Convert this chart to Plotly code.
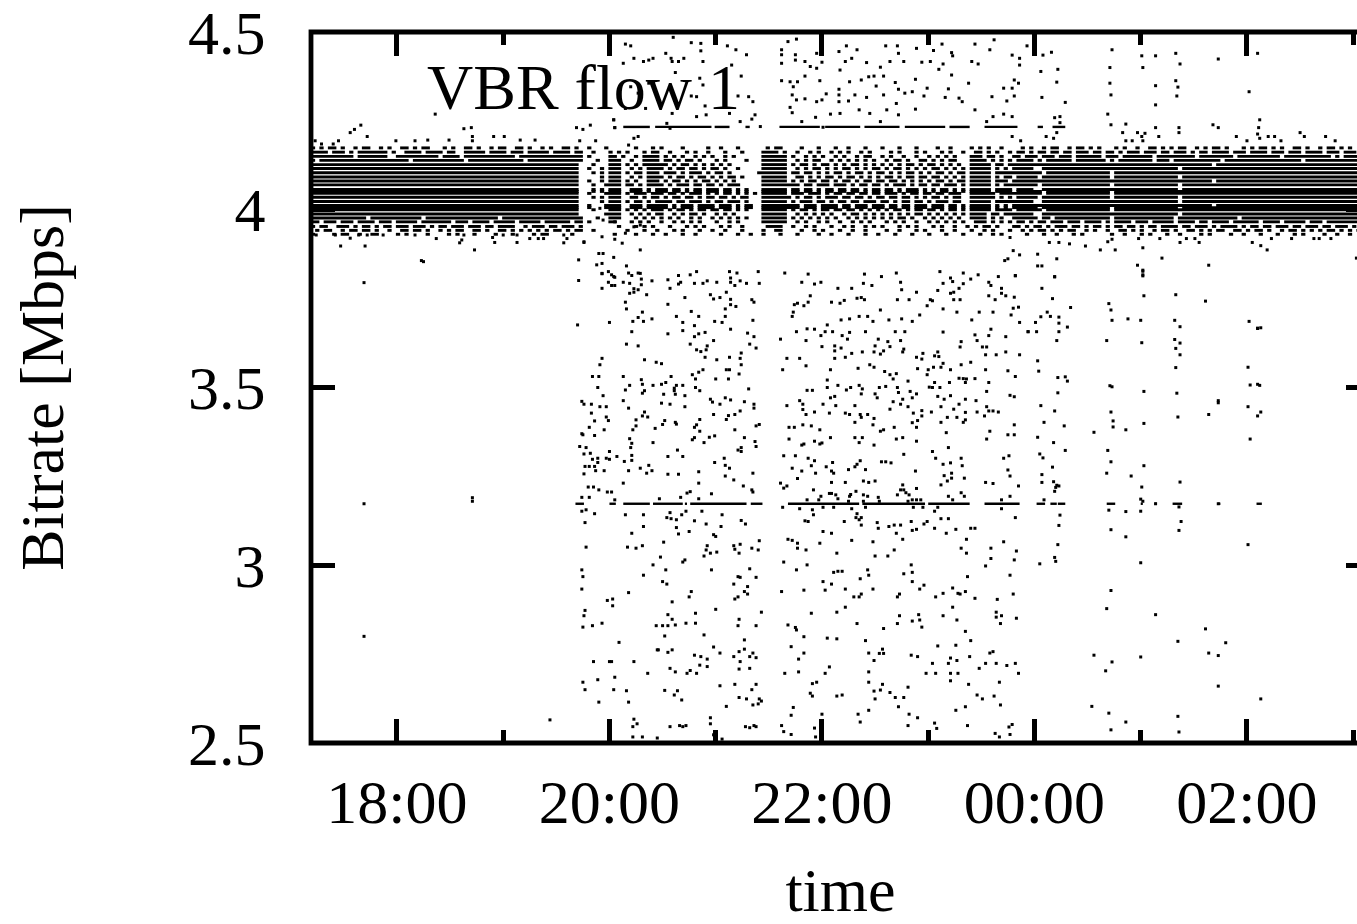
import plotly.graph_objects as go

FONT = "Liberation Serif"
x_tick_hours = [0, 2, 4, 6, 8]
x_tick_labels = ["18:00", "20:00", "22:00", "00:00", "02:00"]
x_minor_hours = [1, 3, 5, 7, 9]
y_ticks = [2.5, 3, 3.5, 4, 4.5]
y_tick_labels = ["2.5", "3", "3.5", "4", "4.5"]

# Quantised bitrate levels with on/off occupancy in 0.04 h bins
BIN_START = -0.81
BIN_H = 0.04
LEFT_SOLID = "###############################################################."
RIGHT_A = "#####.################.###############.############################################"
RIGHT_B = "##############################################.####################################"
RIGHT_C = "####..################################.############################################"
RIGHT_D = "######.###############.############################################################"

left_4174 = "#.#.##.#.. #.##..#.#. .##.#.##.. .#.#..##.# ..#.##..## .#..#.#..# #.#.#.#.#. ...."
left_4162 = "####.###.# .#######.# ..####.### #.##..#### #.####.### .#####.### #.##.##### ...."
left_4150 = "########## .#######.. ########## .####.#### ########.# ########## ########## ...."
left_4139 = "#.######## ########## ###.###### ######.### ########## .######### ########## ...."
left_3977 = "########## ###.###### ######.### ########## ####.##### ########## ########## ...."
left_3966 = "##.###.### .####.###. #####.#### ###.###.## ##.#####.# ####.##### #.###.#### ...."
left_3953 = "#.##..###. #.##.#.##. ###.###.#. ##.###.### .##.####.. #.###.##.# ##.#.###.# ...."
left_3942 = ".#.##..#.# #.##.#..#. .##.##.#.. #.#.##..## .#..##.#.# .#.#.#.##. #.##.#.#.. ...."
left_3931 = "#....#.##. .#..##.... #.#....#.. ..#.#...#. ...#...#.. ..#.##.... .#...#..#. ...."

mid_4174 = ".#...#.... ..#...#.#. ...#.....# ..#...#... ...#.##... .#...#...# ..#...#... #...#...#. ...#..#... .#.#.#..#. .."
mid_4162 = "..#...#.#. #...#.##.. #...#.#..# ...#...#.. ..####.#.. #..#.#..#. #.#..#.#.. ..#.#...#. #...#.#..# ..##.#.#.. #."
mid_4150 = ".#....##.# ..#.####.# .#.#..#.#. #..#.#.... ..######.# ..#.#.#..# .#..#.##.. #.#..#..#. .#.#.#.#.. .###.##.#. .#"
mid_4139 = "...#..###. .#..####.# #.#.##.#.. .#.#....#. ..######.. #.#.##..#. #.#.#.#.#. .#.##.#..# #.#.#.##.. .####.#.#. #."
mid_4127 = "..#...###. #.#.###### .#.##.#.#. #.#.#..... ..######.# .##.#.##.# .#.##.#.#. #.#.#.##.# .##.#.#.#. .#####.##. ##"
mid_4116 = ".#..#.###. .#.#.####. #.##.##.#. ##.#..#... ..######.. #.#.##.#.# .##.#.#.## .#.##.#.#. #.##.#.#.# .#####.#.# .#"
mid_4104 = "..#.#.###. #.##.###.# ##.#.###.# .##.#..... .#######.# #.##.#.#.# #.#.##.#.# #.#.#.##.# .#.##.#.## .#####.### ##"
mid_4092 = "....#.###. .#.#.####. #.##.#.##. #.#.##.#.. ..######.. ##.#.#.##. #.##.#.#.# .##.#.##.# #.##.#.#.# .#####.#.# #."
mid_4081 = ".#..#.###. #.#..###.# .##.#.#.## .#.#.#.... ..######.# .#.##.##.# .##.#.##.# #.##.#.#.# .#.##.#.## .#####.### .#"
mid_4070 = "..#..####. ##.#.####. #.###.##.# #.#.###... ..######## #.##.###.# ##.#.##.## .#.###.#.# #.##.###.# .#####.#.# ##"
mid_4057 = "..#.#.###. .###.#.### .##.#.##.# ##.##.#.#. ..######.# #.##.#.##. ##.##.#.## .##.#.###. #.#.##.#.# .#####.### #."
mid_4046 = ".#...####. #.###.###. ##.#.###.# .#.##.#.#. #.######.# ##.###.#.# #.##.##.## .###.#.##. ##.##.###. .######.## ##"
mid_4035 = "..#.#.###. .##.#.##.# .##.##.#.# #.##.#.##. ..#######. #.##.#.### .##.##.#.# #.##.##.#. #.##.#.##. .######.#. #."
mid_4023 = "....#.###. #.##.#.### #.##.###.# .##.###.#. ..######.# .###.##.#. ##.##.###. ##.#.##.## .#.###.##. .#####.### ##"
mid_4012 = ".#...####. .###.##### .#.###.### #.###.#.## ..######## #.###.#### .##.###.## #.##.##.## #.###.##.# .#####.#.# .#"
mid_4000 = "..#...###. #.#.#.###. #.##.#.##. ##.##.#.#. ..######.# .##.#.##.# #.##.#.#.# .#.##.#.## .##.#.##.# .#####.### #."
mid_3988 = ".....####. .#.#.#.##. .#.#.##.#. .#.#.#.... ..######.. #.#.#.#.#. .#.##.#.#. #.#.#.#.## .#.#.#.#.# .####.##.# ##"
mid_3977 = "...#..###. ..#.#.#.#. #.#..#.#.. #.#.#.#.#. ..######.# .#.#.#.#.# ..#.#.#.#. #.#.##.#.. #.#.#.#.#. .####.#.#. .#"
mid_3966 = ".#....##.. .#.#.#..#. .#.#.#.#.. .#..#.#... ..######.. #.#..#.#.. #..#.#.#.. .#.#.#..#. .#.#.#.#.# ..###.#.#. #."
mid_3953 = "........#. ..#.#.#... #...#.#.#. ..#.#..#.. ...####..# ..#.#...#. .#.#..#.#. #...#.#.#. ..#.#..#.. #.#.##.#.. .#"
mid_3942 = "..#....... #...#..#.. .#.#...#.. #..#...#.. ..#..##... .#..#.#... #..#..#... .#..#...#. #...#..#.. .#..#.#... #."
mid_3931 = ".......#.. ..#...#..# ...#..#... ..#...#..# ..#...#... #....#..#. ..#...#..# ...#...#.. .#...#...# ...#..#.#. .."

right_4174 = ".#.#..#.## ..#.##.#.# ...#.#..#. .##.#.#.## ..#.#.##.# ...#.#.##. #.#..##.#. .#.##.#.#. .##"
right_4162 = "##.#.##.## .##.###.## .##.#.###. ###.##.### .#.##.#### .###.####. ###.###.## ##.###.### .##"
right_4150 = "#.###.###. ###.###### .###.##### ##.####### ##.####### #.######## ##.####### ####.#.### ###"
right_4139 = "####.#.### ###.###### #.#.###### ##.###.### ########.# ########## #######.## ########## ###"
right_3977 = "#####.##.# ########## ##.####### #######.## ########## ##.####### ########## ########## ###"
right_3966 = "##.#.##.## #.###.#### .#.####.## #.#####.## ##.##.#### .######.## ##.#####.# ##.####### ###"
right_3953 = "#.#.##.#.# ##.##.#.## .#.##.##.# .##.####.# #.###.#.## ##.#.##.## .###.##.## #.##.###.# .##"
right_3942 = ".#.#.##.#. #.##..#.#. .#..##.#.# ..#.##.#.. ##.#.#.##. .##.#.##.# ..#.##.#.# .#.##.#.#. ##."
right_3931 = "..#...#..# ...#.#.... ..#..#...# .#...#..#. ...#.#.... #..#...#.. .#...#.#.. ..#..#..#. ..#"

band_rows = [
    (4.174, left_4174, mid_4174, right_4174), (4.162, left_4162, mid_4162, right_4162),
    (4.150, left_4150, mid_4150, right_4150), (4.139, left_4139, mid_4139, right_4139),
    (4.127, LEFT_SOLID, mid_4127, RIGHT_B), (4.116, LEFT_SOLID, mid_4116, RIGHT_C),
    (4.104, LEFT_SOLID, mid_4104, RIGHT_D), (4.092, LEFT_SOLID, mid_4092, RIGHT_A),
    (4.081, LEFT_SOLID, mid_4081, RIGHT_B), (4.070, LEFT_SOLID, mid_4070, RIGHT_A),
    (4.057, LEFT_SOLID, mid_4057, RIGHT_C), (4.0515, LEFT_SOLID, mid_4057, RIGHT_D),
    (4.046, LEFT_SOLID, mid_4046, RIGHT_D), (4.035, LEFT_SOLID, mid_4035, RIGHT_A),
    (4.023, LEFT_SOLID, mid_4023, RIGHT_C), (4.012, LEFT_SOLID, mid_4012, RIGHT_B),
    (4.006, LEFT_SOLID, mid_4012, RIGHT_A), (4.000, LEFT_SOLID, mid_4000, RIGHT_D),
    (3.988, LEFT_SOLID, mid_3988, RIGHT_C), (3.977, left_3977, mid_3977, right_3977),
    (3.966, left_3966, mid_3966, right_3966), (3.953, left_3953, mid_3953, right_3953),
    (3.942, left_3942, mid_3942, right_3942), (3.931, left_3931, mid_3931, right_3931),
]

# Flat runs at the two repeated bitrates (start, end pairs in hours after 18:00)
level_3173 = 3.173
runs_3173 = [1.68, 1.76, 2.00, 2.06, 2.13, 2.38, 2.41, 2.69, 2.71, 2.73, 2.76, 3.29, 3.33, 3.44, 3.68, 4.35,
             4.38, 4.97, 5.00, 5.39, 5.53, 5.86, 6.02, 6.10, 6.15, 6.21, 6.22, 6.29, 6.68, 6.76, 7.00, 7.02,
             7.13, 7.15, 7.30, 7.39, 7.73, 7.75, 8.09, 8.14]
level_4233 = 4.233
runs_4233 = [2.13, 2.38, 2.43, 2.96, 2.99, 3.13, 3.28, 3.32, 3.60, 3.98, 4.03, 4.36, 4.40, 4.73, 4.78, 5.16,
             5.20, 5.39, 5.53, 5.84, 6.03, 6.08, 6.17, 6.29]

isolated = [(-0.31, 3.795), (-0.31, 3.173), (0.71, 3.19), (0.71, 3.18), (-0.31, 2.80), (1.44, 2.565), (0.23, 3.857)]

fringe_left = [(-0.77,4.194),(-0.71,4.185),(-0.60,4.185),(-0.55,4.194),(-0.28,4.206),(-0.01,4.194),(0.17,4.194),
 (0.29,4.196),(0.49,4.196),(0.71,4.206),(0.71,4.194),(0.91,4.206),(1.01,4.206),(1.16,4.196),(1.30,4.196),
 (-0.44,4.217),(-0.40,4.226),(-0.34,4.238),(0.63,4.228),(0.70,4.231),(0.36,4.269),(1.69,4.231),(1.75,4.226),
 (1.82,4.238),(2.04,4.253),(2.05,4.231),(1.72,4.194),(1.87,4.194),
 (-0.76,3.929),(-0.58,3.929),(-0.44,3.920),(-0.36,3.929),(-0.28,3.929),(-0.13,3.929),(0.17,3.929),(0.37,3.919),
 (0.63,3.929),(0.61,3.915),(0.59,3.907),(0.90,3.922),(0.92,3.908),(1.00,3.929),(1.13,3.929),(1.13,3.908),
 (1.25,3.919),(1.33,3.919),(1.38,3.919),(1.57,3.929),(1.60,3.919),(1.57,3.907),(1.76,3.908),(-0.53,3.898),
 (-0.30,3.898),(0.73,3.887),(0.25,3.854),(1.71,3.859)]

patch_above_left = [(2.15,4.466),(2.20,4.461),(2.23,4.426),(2.13,4.412),(2.32,4.417),(2.37,4.421),(2.20,4.346),
 (2.27,4.328),(2.15,4.285),(2.34,4.285),(2.37,4.356),(2.04,4.253),(2.05,4.231),(2.23,4.201),(2.27,4.206),(2.18,4.182)]

patch_below_left = [(1.91,4.004),(1.94,3.971),(2.05,3.966),(2.23,3.952),(2.15,3.934),(2.29,3.957),(1.93,3.924),
 (2.05,3.917),(2.12,3.906),(2.29,3.887),(1.90,3.877),(1.94,3.877),(2.04,3.866),(1.93,3.849),(1.88,3.845),
 (2.16,3.842),(2.29,3.821),(2.04,3.812),(1.93,3.821),(1.76,3.910)]

top_a = [(2.60,4.485),(2.77,4.470),(2.86,4.468),(2.86,4.447),(2.41,4.426),(2.53,4.440),(2.58,4.426),(2.59,4.417),
 (2.65,4.417),(2.70,4.426),(2.88,4.417),(3.11,4.461),(3.19,4.450),(3.29,4.436),(3.15,4.407),(2.62,4.386),
 (2.85,4.370),(2.88,4.351),(3.24,4.376),(3.21,4.320),(3.31,4.318),(3.35,4.304),(2.90,4.292),(2.77,4.320),
 (2.82,4.318),(2.59,4.271),(2.82,4.262),(2.91,4.267),(3.13,4.271),(3.37,4.267),(3.34,4.255),(3.23,4.248),
 (2.54,4.243),(2.57,4.229),(3.42,4.234)]

top_b = [(3.62,4.450),(3.62,4.436),(3.62,4.412),(3.68,4.473),(3.76,4.480),(3.75,4.436),(3.75,4.421),(3.84,4.417),
 (3.89,4.403),(3.95,4.440),(4.00,4.415),(3.95,4.398),(3.62,4.363),(3.70,4.360),(3.77,4.360),(3.84,4.376),
 (3.98,4.363),(3.73,4.346),(3.72,4.323),(3.76,4.309),(3.84,4.312),(3.95,4.304),(4.00,4.309),(4.04,4.326),
 (4.16,4.339),(4.16,4.323),(4.16,4.304),(4.25,4.306),(4.31,4.323),(4.42,4.316),(4.58,4.323),(4.70,4.299),
 (3.70,4.288),(3.72,4.273),(3.94,4.260),(4.08,4.269),(4.17,4.271),(4.35,4.281),(4.45,4.271),(4.61,4.281),
 (4.55,4.248),(4.72,4.267),(4.88,4.283),(4.78,4.328),(4.85,4.332),(4.96,4.320),(4.26,4.360),(4.37,4.365),
 (4.44,4.374),(4.49,4.376),(4.51,4.348),(4.58,4.376),(4.69,4.358),(4.88,4.367),(4.72,4.339),(4.99,4.342)]

top_c = [(4.16,4.445),(4.23,4.461),(4.33,4.450),(4.28,4.426),(4.22,4.417),(4.17,4.393),(4.42,4.414),(4.55,4.401),
 (4.64,4.417),(4.60,4.461),(4.71,4.461),(4.72,4.440),(4.77,4.417),(4.89,4.454),(4.94,4.415),(5.02,4.417),
 (5.10,4.395),(5.14,4.410),(5.05,4.448),(5.13,4.466),(5.22,4.442),(5.23,4.433),(5.38,4.356),(5.19,4.340),
 (5.16,4.316),(5.29,4.314),(5.32,4.304),(5.22,4.379),(5.41,4.417),(5.47,4.410),(5.44,4.466),(5.58,4.450),
 (5.62,4.478),(5.60,4.318),(5.44,4.281),(5.55,4.248),(5.61,4.262),(3.81,4.248),(4.01,4.232)]

top_d = [(5.93,4.461),(5.79,4.435),(5.86,4.426),(5.86,4.407),(6.08,4.435),(6.16,4.443),(6.22,4.395),(6.06,4.389),
 (5.81,4.365),(5.85,4.356),(6.21,4.359),(6.73,4.450),(6.71,4.400),(7.02,4.400),(7.01,4.433),(7.14,4.433),
 (7.33,4.440),(7.37,4.410),(7.33,4.363),(7.35,4.345),(7.14,4.349),(6.71,4.356),(6.72,4.323),(7.73,4.424),
 (8.10,4.440),(8.02,4.332),(7.34,4.320),(7.14,4.295),(6.07,4.316),(6.29,4.302),(5.71,4.342),(5.79,4.342),
 (5.74,4.306),(5.81,4.320),(5.71,4.269),(5.79,4.262),(6.19,4.259),(6.24,4.262),(6.69,4.269),(6.72,4.239),
 (6.24,4.245),(6.86,4.241),(7.14,4.231),(7.36,4.231),(7.68,4.239),(7.73,4.231),(8.12,4.253),(8.11,4.231),
 (6.83,4.217),(6.97,4.217),(7.01,4.206),(7.04,4.215),(7.36,4.217),(8.10,4.213),(8.12,4.201),(7.90,4.206),
 (8.50,4.217),(8.54,4.206),(8.74,4.206),(8.20,4.206),(8.26,4.206),(8.32,4.194),(7.17,4.206),(5.79,4.206),
 (5.87,4.194),(6.11,4.206),(6.21,4.217),(6.18,4.201),(6.86,4.194),(6.92,4.194),(7.02,4.194),(8.00,4.194),(8.83,4.194)]

below_d = [(5.77,3.922),(6.14,3.908),(6.23,3.908),(6.33,3.904),(6.48,3.898),(6.62,3.887),(6.76,3.887),(6.69,3.910),
 (6.73,3.917),(6.98,3.919),(7.18,3.919),(7.02,3.893),(7.37,3.908),(7.43,3.919),(7.51,3.919),(7.55,3.908),
 (8.05,3.908),(8.13,3.899),(8.19,3.887),(8.23,3.919),(8.42,3.919),(8.63,3.919),(8.68,3.919),(8.79,3.919),
 (6.03,3.875),(5.86,3.873),(5.80,3.885),(5.75,3.862),(5.72,3.857),(6.21,3.862),(7.20,3.864),(6.03,3.842),
 (6.07,3.842),(5.82,3.814),(6.19,3.812),(6.97,3.844),(7.02,3.830),(7.02,3.814),(7.64,3.844),(9.03,3.864)]

low_a = [(1.93,3.820),(1.99,3.826),(2.02,3.817),(2.05,3.810),(2.18,3.822),(2.21,3.815),(2.27,3.822),(2.65,3.815),
 (2.76,3.817),(2.82,3.826),(3.13,3.826),(3.20,3.822),(3.40,3.826),(1.71,3.801),(1.99,3.796),(2.02,3.787),
 (2.05,3.787),(2.13,3.796),(2.19,3.793),(2.30,3.805),(2.30,3.789),(2.40,3.800),(2.55,3.803),(2.65,3.791),
 (2.67,3.796),(2.80,3.793),(2.88,3.793),(2.92,3.800),(3.01,3.796),(3.14,3.808),(3.14,3.796),(3.18,3.787),
 (3.23,3.800),(3.29,3.793),(3.41,3.793),(1.93,3.779),(2.23,3.778),(2.27,3.775),(2.19,3.765),(2.23,3.768),
 (2.35,3.761),(2.57,3.779),(3.10,3.768),(2.95,3.761),(3.04,3.753),(2.98,3.749),(2.71,3.753),(3.14,3.748),
 (2.15,3.740),(2.55,3.734),(3.14,3.733),(3.19,3.728),(3.34,3.747),(3.36,3.740),(2.16,3.721),(3.09,3.721),
 (2.31,3.712),(2.27,3.697),(2.32,3.686),(2.40,3.693),(2.22,3.686),(2.00,3.683),(1.70,3.676),(2.63,3.700),
 (2.77,3.714),(2.84,3.700),(2.69,3.683),(2.99,3.686),(3.06,3.683),(3.09,3.700),(3.35,3.689),(2.80,3.674),
 (2.21,3.657),(2.55,3.651),(2.69,3.660),(2.84,3.651),(2.80,3.643),(2.90,3.655),(3.14,3.664),(3.30,3.653),
 (3.36,3.643),(2.16,3.622),(2.27,3.617),(2.76,3.622),(2.98,3.632),(2.92,3.617),(2.82,3.606),(2.86,3.601),
 (2.91,3.606),(3.32,3.622),(3.38,3.611),(1.93,3.582),(1.91,3.564),(2.33,3.578),(2.44,3.571),(2.49,3.567),
 (2.90,3.585),(3.01,3.578),(3.13,3.585),(3.23,3.582),(3.24,3.597),(3.24,3.564),(1.84,3.531),(1.90,3.531),
 (2.13,3.531),(2.30,3.522),(2.58,3.531),(2.78,3.536),(2.84,3.543),(2.88,3.550),(2.81,3.524),(3.00,3.524),
 (3.12,3.524),(3.10,3.550),(3.13,3.550),(3.22,3.538),(1.89,3.500),(2.15,3.493),(2.19,3.506),(2.31,3.509),
 (2.41,3.506),(2.49,3.509),(2.53,3.514),(2.61,3.498),(2.61,3.491),(2.63,3.506),(2.69,3.506),(2.33,3.491),
 (2.31,3.484),(2.51,3.481),(2.62,3.481),(2.71,3.477),(2.81,3.500),(2.85,3.491),(3.31,3.496),(1.94,3.477),
 (1.74,3.461),(1.76,3.453),(1.83,3.453),(1.91,3.446),(1.97,3.446),(2.13,3.463),(2.18,3.442),(2.49,3.456),
 (2.57,3.453),(2.71,3.446),(2.95,3.467),(2.97,3.459),(3.04,3.453),(3.09,3.471),(3.14,3.465),(3.27,3.460),
 (3.36,3.453),(3.36,3.442),(1.83,3.428),(1.97,3.417),(1.99,3.407),(1.86,3.406),(2.25,3.409),(2.33,3.431),
 (2.31,3.420),(2.36,3.417),(2.98,3.424),(3.12,3.421),(3.18,3.424),(3.23,3.434),(3.10,3.410),(2.85,3.410),
 (2.52,3.407),(2.62,3.402),(2.63,3.397),(2.50,3.396),(2.25,3.392),(3.38,3.392),(3.41,3.396),(1.81,3.388),
 (1.74,3.370),(1.75,3.367),(1.86,3.365),(1.95,3.381),(2.22,3.381),(2.43,3.385),(2.80,3.388),(2.82,3.395),
 (2.85,3.377),(3.18,3.381),(2.99,3.364),(2.94,3.360),(2.80,3.359),(3.27,3.359),(2.19,3.356),(1.72,3.334),
 (1.78,3.331),(1.76,3.313),(1.82,3.315),(2.00,3.320),(2.21,3.343),(2.20,3.331),(2.41,3.345),(2.64,3.324),
 (2.78,3.353),(2.89,3.345),(3.24,3.331),(3.24,3.320),(3.21,3.324),(3.37,3.348),(3.38,3.334),(1.84,3.298),
 (1.89,3.301),(1.97,3.301),(2.00,3.298),(2.07,3.306),(1.89,3.289),(2.14,3.292),(2.21,3.309),(2.21,3.295),
 (2.55,3.306),(2.69,3.306),(3.08,3.301),(2.99,3.289),(3.09,3.281),(3.13,3.273),(2.37,3.281),(2.29,3.273),
 (1.81,3.278),(1.77,3.278),(1.86,3.278),(1.76,3.257),(1.87,3.266),(1.95,3.266),(2.18,3.266),(2.35,3.259),
 (2.40,3.266),(2.55,3.256),(2.65,3.256),(2.84,3.263),(3.35,3.259),(3.09,3.251),(3.17,3.240),(2.13,3.231),
 (2.84,3.231),(1.80,3.220),(1.85,3.220),(1.90,3.212),(1.98,3.206),(2.02,3.206),(2.76,3.207),(2.73,3.203),
 (2.96,3.201),(3.26,3.223),(3.34,3.212),(3.35,3.206),(1.74,3.191),(1.81,3.191),(2.47,3.187),(2.67,3.191),
 (2.84,3.187),(2.05,3.184)]

low_b = [(1.74,3.152),(1.78,3.156),(1.86,3.145),(2.15,3.142),(2.32,3.142),(2.57,3.148),(2.54,3.134),(2.58,3.131),
 (2.63,3.128),(2.68,3.142),(2.72,3.152),(2.80,3.125),(2.87,3.152),(2.91,3.116),(3.06,3.142),(3.24,3.126),
 (3.28,3.116),(1.77,3.120),(2.32,3.109),(2.63,3.106),(2.65,3.088),(2.75,3.095),(3.05,3.109),(2.98,3.086),
 (3.00,3.081),(2.21,3.090),(2.51,3.065),(1.78,3.051),(2.17,3.051),(2.25,3.048),(2.31,3.055),(2.92,3.055),
 (2.91,3.043),(2.95,3.034),(3.01,3.037),(2.89,3.026),(3.17,3.055),(3.23,3.059),(3.18,3.045),(3.22,3.034),
 (3.34,3.048),(3.40,3.043),(3.41,3.069),(2.48,3.023),(2.71,3.015),(2.69,3.009),(2.41,3.001),(2.53,2.987),
 (2.96,2.987),(3.32,2.990),(1.74,2.987),(1.75,2.968),(2.32,2.972),(3.21,2.968),(3.23,2.966),(3.38,2.966),
 (2.50,2.954),(2.54,2.947),(3.17,2.947),(3.30,2.940),(1.74,2.933),(2.18,2.923),(2.77,2.926),(2.75,2.911),
 (3.27,2.926),(3.30,2.919),(3.21,2.911),(3.18,2.905),(1.98,2.901),(2.03,2.905),(2.03,2.886),(2.59,2.897),
 (1.77,2.873),(1.76,2.858),(3.00,2.876),(2.55,2.861),(2.81,2.865),(3.43,2.868),(2.59,2.848),(3.22,2.848),
 (1.75,2.826),(1.84,2.830),(1.93,2.837),(2.44,2.830),(2.50,2.830),(2.55,2.830),(2.62,2.832),(2.72,2.837),
 (2.81,2.837),(3.21,2.830),(3.38,2.830),(2.52,2.801),(2.89,2.804),(3.27,2.790),(2.09,2.783),(2.45,2.762),
 (2.46,2.762),(2.55,2.755),(2.59,2.762),(2.98,2.770),(3.22,2.757),(3.27,2.764),(3.35,2.753),(2.80,2.747),
 (2.86,2.743),(2.92,2.736),(3.04,2.753),(3.17,2.743),(3.32,2.743),(3.38,2.740),(1.85,2.729),(2.00,2.729),
 (2.02,2.729),(2.23,2.729),(3.23,2.729),(2.85,2.719),(2.92,2.715),(2.57,2.710),(2.62,2.700),(2.76,2.704),
 (2.73,2.696),(2.82,2.696),(3.22,2.708),(3.32,2.710),(2.36,2.696),(1.75,2.671),(1.89,2.678),(2.05,2.685),
 (3.04,2.661),(3.18,2.665),(3.38,2.665),(1.77,2.650),(2.04,2.650),(2.16,2.647),(2.52,2.648),(2.64,2.647),
 (2.61,2.635),(3.34,2.650),(1.90,2.615),(2.18,2.615),(2.68,2.621),(3.22,2.628),(3.29,2.624),(3.41,2.624),
 (3.43,2.618),(3.40,2.610),(3.35,2.607),(3.10,2.603),(2.23,2.567),(2.26,2.554),(2.22,2.546),(2.57,2.546),
 (2.66,2.549),(2.69,2.546),(2.72,2.549),(2.95,2.571),(2.95,2.554),(3.28,2.546),(3.32,2.543),(3.36,2.549),
 (3.38,2.546),(2.22,2.517),(2.31,2.517),(2.45,2.514),(2.98,2.523),(3.06,2.511)]

low_c = [(3.65,3.822),(3.87,3.819),(3.81,3.796),(3.93,3.791),(3.99,3.796),(4.40,3.819),(4.56,3.812),(4.70,3.822),
 (4.39,3.793),(4.47,3.787),(4.74,3.796),(4.15,3.779),(4.28,3.779),(4.75,3.775),(4.89,3.768),(5.11,3.826),
 (5.33,3.822),(5.47,3.817),(5.21,3.808),(5.23,3.798),(5.14,3.793),(5.33,3.792),(5.40,3.805),(5.57,3.796),
 (5.66,3.812),(5.82,3.815),(5.59,3.787),(5.29,3.779),(5.09,3.773),(5.21,3.765),(5.24,3.768),(5.69,3.779),
 (5.69,3.765),(5.73,3.758),(5.57,3.758),(5.81,3.754),(3.89,3.758),(3.87,3.740),(3.77,3.737),(3.74,3.733),
 (3.83,3.730),(4.09,3.740),(4.17,3.737),(4.21,3.745),(4.33,3.751),(4.37,3.753),(4.40,3.747),(4.71,3.747),
 (4.82,3.747),(5.02,3.747),(5.04,3.744),(4.99,3.730),(5.24,3.747),(5.30,3.747),(5.63,3.747),(4.55,3.718),
 (5.14,3.721),(5.27,3.712),(5.48,3.712),(5.61,3.712),(3.73,3.712),(3.72,3.700),(4.18,3.690),(4.26,3.693),
 (4.35,3.700),(4.43,3.700),(4.48,3.686),(4.63,3.690),(4.75,3.693),(4.85,3.686),(4.92,3.704),(5.41,3.690),
 (5.78,3.704),(5.80,3.723),(5.85,3.726),(5.86,3.683),(4.05,3.676),(3.76,3.657),(3.86,3.665),(3.93,3.664),
 (3.99,3.646),(4.03,3.657),(4.10,3.657),(4.19,3.646),(4.26,3.655),(4.41,3.657),(4.69,3.657),(4.78,3.657),
 (5.14,3.656),(5.44,3.648),(5.59,3.664),(5.57,3.646),(5.73,3.643),(5.94,3.657),(3.85,3.632),(3.61,3.636),
 (4.24,3.636),(4.53,3.636),(4.62,3.629),(4.74,3.632),(4.50,3.617),(4.64,3.615),(4.00,3.615),(4.12,3.617),
 (4.18,3.611),(5.46,3.632),(5.31,3.629),(5.30,3.614),(5.51,3.614),(5.55,3.614),(4.12,3.603),(4.28,3.596),
 (4.38,3.600),(4.49,3.600),(4.55,3.594),(4.58,3.603),(4.77,3.608),(4.76,3.600),(4.89,3.585),(4.95,3.596),
 (4.94,3.580),(5.09,3.600),(5.06,3.589),(5.10,3.587),(5.14,3.568),(5.40,3.571),(5.73,3.600),(5.86,3.592),
 (5.54,3.592),(5.64,3.592),(3.67,3.582),(3.79,3.582),(4.12,3.582),(4.22,3.585),(3.85,3.561),(3.63,3.550),
 (4.08,3.550),(4.34,3.554),(4.45,3.564),(4.49,3.557),(4.59,3.545),(4.70,3.539),(4.64,3.536),(4.67,3.524),
 (4.90,3.553),(5.00,3.550),(5.05,3.557),(5.12,3.557),(5.21,3.550),(5.31,3.564),(4.99,3.536),(5.54,3.550),
 (5.75,3.547),(5.82,3.531),(4.05,3.521),(4.05,3.500),(4.15,3.506),(4.23,3.493),(4.27,3.500),(4.35,3.506),
 (4.38,3.496),(4.37,3.482),(4.54,3.500),(4.60,3.503),(4.71,3.500),(4.72,3.486),(4.81,3.518),(5.01,3.501),
 (5.06,3.514),(5.04,3.500),(5.11,3.500),(5.20,3.514),(5.29,3.526),(5.33,3.525),(5.36,3.524),(5.44,3.525),
 (5.35,3.514),(5.57,3.514),(3.86,3.492),(3.91,3.492),(4.08,3.471),(4.12,3.475),(4.50,3.482),(4.52,3.471),
 (4.76,3.467),(4.83,3.489),(4.89,3.482),(4.85,3.471),(5.09,3.475),(5.15,3.467),(5.21,3.477),(5.55,3.489),
 (5.77,3.478),(5.81,3.474),(5.35,3.467),(5.45,3.463),(3.79,3.463),(3.82,3.453),(3.67,3.449),(3.82,3.438),
 (4.01,3.453),(4.13,3.449),(4.31,3.449),(4.67,3.460),(4.74,3.453),(4.81,3.446),(4.64,3.439),(3.85,3.424),
 (3.93,3.431),(4.07,3.428),(4.22,3.428),(4.26,3.424),(4.36,3.424),(4.43,3.424),(4.37,3.416),(4.49,3.413),
 (4.86,3.428),(4.94,3.435),(4.94,3.420),(5.03,3.431),(5.12,3.446),(5.24,3.439),(5.29,3.453),(5.35,3.430),
 (5.27,3.416),(5.46,3.431),(5.55,3.446),(5.57,3.434),(5.61,3.434),(5.66,3.431),(5.53,3.420),(5.18,3.416),
 (3.69,3.388),(3.74,3.388),(3.82,3.395),(3.90,3.392),(4.31,3.402),(4.48,3.395),(4.68,3.388),(4.85,3.401),
 (4.90,3.407),(4.89,3.388),(5.12,3.402),(5.33,3.402),(5.35,3.409),(3.98,3.381),(4.55,3.377),(4.58,3.381),
 (5.17,3.373),(5.58,3.377),(5.75,3.367),(5.81,3.367),(5.81,3.395),(3.69,3.355),(4.08,3.359),(4.31,3.359),
 (4.38,3.359),(4.70,3.355),(4.76,3.359),(5.55,3.355),(4.89,3.349),(3.81,3.338),(3.83,3.341),(3.93,3.349),
 (3.98,3.341),(4.00,3.344),(4.35,3.345),(4.49,3.338),(5.19,3.331),(5.04,3.320),(3.75,3.308),(3.64,3.308),
 (4.77,3.312),(5.76,3.308),(3.87,3.301),(3.93,3.294),(4.10,3.289),(4.36,3.294),(4.56,3.291),(4.60,3.291),
 (4.65,3.288),(5.07,3.301),(5.31,3.301),(5.71,3.301),(5.14,3.284),(5.21,3.288),(4.33,3.284),(4.31,3.277),
 (3.90,3.280),(3.72,3.273),(4.04,3.277),(3.81,3.265),(4.09,3.265),(4.25,3.269),(4.41,3.269),(4.88,3.265),
 (4.11,3.259),(3.94,3.259),(5.32,3.280),(5.75,3.268),(5.15,3.252),(5.22,3.259),(3.77,3.244),(5.77,3.251),
 (5.22,3.245),(5.18,3.237),(5.34,3.245),(4.09,3.233),(4.22,3.233),(4.39,3.237),(4.44,3.233),(4.50,3.237),
 (5.54,3.233),(5.61,3.230),(5.12,3.226),(5.85,3.223),(4.76,3.226),(3.64,3.217),(3.67,3.223),(3.61,3.231),
 (3.92,3.212),(4.74,3.212),(4.77,3.212),(4.89,3.216),(4.32,3.208),(4.07,3.202),(4.09,3.202),(4.13,3.198),
 (4.27,3.199),(4.39,3.198),(4.43,3.194),(4.71,3.198),(4.79,3.204),(4.82,3.198),(5.31,3.204),(3.99,3.194),
 (4.15,3.187),(4.26,3.194),(4.53,3.191),(5.19,3.194),(5.34,3.194),(5.77,3.194),(3.97,3.184),(3.86,3.184),
 (4.25,3.180),(4.39,3.180),(4.54,3.180),(4.81,3.180),(4.85,3.184),(4.89,3.184),(4.93,3.184),(5.23,3.184),(5.69,3.184)]

low_d = [(3.63,3.163),(3.79,3.159),(3.91,3.156),(3.92,3.142),(4.01,3.163),(4.11,3.163),(4.28,3.159),(4.33,3.145),
 (4.37,3.134),(4.32,3.134),(4.35,3.128),(4.41,3.163),(4.86,3.163),(4.95,3.163),(5.09,3.163),(5.06,3.152),
 (5.69,3.159),(5.82,3.134),(3.84,3.125),(3.87,3.123),(4.21,3.123),(4.52,3.120),(4.37,3.113),(4.53,3.104),
 (4.63,3.109),(4.68,3.113),(4.74,3.113),(4.84,3.123),(4.99,3.123),(4.96,3.116),(5.12,3.131),(5.19,3.131),
 (5.06,3.104),(4.89,3.101),(4.85,3.098),(5.26,3.101),(5.40,3.104),(5.44,3.104),(4.01,3.095),(4.09,3.090),
 (4.70,3.090),(5.17,3.090),(3.68,3.073),(3.72,3.070),(3.77,3.062),(3.98,3.062),(4.28,3.070),(4.48,3.066),
 (4.76,3.073),(5.36,3.073),(5.71,3.066),(3.77,3.048),(3.85,3.043),(4.68,3.043),(5.31,3.048),(5.36,3.034),
 (5.59,3.048),(5.83,3.040),(4.14,3.034),(4.50,3.026),(4.62,3.026),(5.59,3.019),(5.81,3.015),(3.64,3.009),
 (3.86,3.001),(4.84,3.001),(5.54,2.998),(3.76,2.987),(4.11,2.980),(4.15,2.983),(4.19,2.983),(4.43,2.987),
 (4.44,2.972),(4.77,2.976),(4.85,2.980),(5.37,2.968),(5.77,2.972),(4.01,2.954),(4.09,2.947),(4.36,2.962),
 (4.85,2.954),(3.62,2.926),(3.83,2.930),(4.03,2.930),(4.22,2.933),(4.48,2.933),(4.96,2.944),(4.92,2.933),
 (5.23,2.936),(5.14,2.921),(5.35,2.926),(5.28,2.921),(5.30,2.919),(4.30,2.911),(4.35,2.911),(4.37,2.919),
 (4.71,2.911),(4.73,2.919),(5.07,2.911),(5.44,2.907),(5.65,2.904),(5.80,2.919),(4.22,2.882),(5.23,2.882),
 (3.90,2.865),(4.14,2.868),(4.73,2.858),(4.91,2.861),(5.14,2.858),(5.64,2.868),(5.64,2.854),(5.69,2.858),
 (5.83,2.851),(4.92,2.846),(5.27,2.846),(4.85,2.843),(4.71,2.836),(5.68,2.836),(4.33,2.836),(3.68,2.832),
 (3.75,2.825),(3.76,2.818),(4.58,2.822),(4.94,2.826),(5.35,2.814),(3.83,2.799),(4.05,2.795),(4.14,2.793),
 (4.41,2.788),(5.40,2.788),(3.71,2.771),(5.09,2.773),(5.26,2.775),(4.57,2.764),(3.83,2.753),(4.44,2.753),
 (4.54,2.752),(4.58,2.752),(4.84,2.747),(4.90,2.743),(5.58,2.753),(5.61,2.757),(5.39,2.743),(5.21,2.739),
 (3.78,2.736),(4.49,2.732),(5.27,2.732),(5.04,2.724),(5.19,2.724),(5.54,2.724),(5.64,2.724),(5.74,2.718),
 (5.82,2.724),(4.07,2.714),(5.48,2.710),(3.65,2.696),(3.78,2.700),(4.03,2.696),(4.44,2.700),(4.98,2.696),
 (5.07,2.696),(5.21,2.696),(5.28,2.696),(5.85,2.696),(3.91,2.667),(3.95,2.671),(4.44,2.671),(4.57,2.665),
 (5.21,2.675),(5.38,2.665),(5.67,2.671),(4.81,2.657),(4.49,2.646),(4.55,2.649),(4.64,2.642),(3.89,2.640),
 (3.91,2.632),(4.14,2.632),(4.19,2.635),(5.46,2.635),(5.62,2.632),(5.51,2.624),(4.69,2.628),(4.77,2.628),
 (4.50,2.624),(5.68,2.607),(3.73,2.600),(4.72,2.602),(5.26,2.592),(5.35,2.602),(4.44,2.592),(3.71,2.578),
 (4.00,2.581),(4.34,2.581),(4.82,2.581),(4.90,2.571),(4.36,2.559),(5.06,2.556),(3.62,2.549),(3.93,2.542),
 (4.81,2.549),(5.08,2.541),(5.37,2.549),(5.79,2.552),(5.76,2.545),(3.64,2.532),(3.71,2.524),(3.94,2.517),
 (5.63,2.527),(5.67,2.517),(5.77,2.524)]

low_e = [(6.19,3.811),(6.07,3.779),(6.17,3.750),(6.34,3.725),(6.12,3.712),(6.06,3.699),(6.15,3.700),(6.23,3.698),
 (6.23,3.681),(6.23,3.657),(6.02,3.657),(6.31,3.670),(6.01,3.683),(6.21,3.632),(5.94,3.657),(6.03,3.575),
 (6.04,3.546),(6.22,3.528),(6.29,3.530),(6.31,3.518),(6.22,3.485),(6.06,3.449),(6.19,3.434),(6.09,3.402),
 (6.28,3.392),(6.03,3.360),(6.18,3.345),(6.29,3.323),(6.05,3.313),(6.08,3.302),(6.17,3.276),(6.07,3.255),
 (6.07,3.233),(6.18,3.235),(6.21,3.225),(6.20,3.219),(6.23,3.223),(6.19,3.208),(6.09,3.184),(6.24,3.141),
 (6.23,3.112),(6.22,3.058),(6.19,3.022),(6.20,3.011),(6.05,3.004),
 (6.70,3.736),(6.72,3.718),(6.73,3.689),(6.88,3.693),(6.68,3.632),(6.71,3.505),(6.73,3.502),(6.72,3.431),
 (6.74,3.406),(6.74,3.389),(6.56,3.374),(6.86,3.381),(6.69,3.323),(6.72,3.291),(6.68,3.259),(6.91,3.251),
 (6.70,3.155),(6.86,3.151),(6.72,3.100),(6.86,3.080),(6.72,2.929),(6.68,2.878),(6.56,2.747),(6.73,2.728),
 (6.67,2.703),(6.54,2.603),(6.70,2.584),(6.86,2.559),(6.72,2.537),
 (7.02,3.827),(7.02,3.817),(7.03,3.758),(7.00,3.689),(7.01,3.626),(7.03,3.489),(7.03,3.399),(7.03,3.280),
 (7.01,3.220),(7.00,3.186),(7.02,3.180),(7.00,3.152),(7.00,3.007),(7.00,2.742),(7.14,2.861),(7.14,3.173),
 (7.33,3.761),(7.32,3.689),(7.37,3.671),(7.32,3.635),(7.37,3.625),(7.33,3.610),(7.37,3.592),(7.33,3.556),
 (7.34,3.484),(7.35,3.417),(7.37,3.234),(7.36,3.164),(7.38,3.123),(7.36,3.098),(7.35,2.786),(7.35,2.575),
 (7.36,2.531),(7.61,3.743),(7.73,3.463),(7.73,3.457),(7.64,3.424),(7.73,3.173),(7.61,2.821),(7.64,2.753),
 (7.73,2.746),(7.73,2.660),(7.80,2.782),(8.02,3.686),(8.10,3.667),(8.10,3.666),(8.13,3.668),(8.01,3.557),
 (8.03,3.507),(8.12,3.506),(8.10,3.509),(8.01,3.446),(8.13,3.431),(8.10,3.420),(8.03,3.355),(8.01,3.058),
 (8.13,2.624)]

# Turn each occupancy row into runs of the time bins it covers
band_x, band_y = [], []
for level, left, mid, right in band_rows:
    mask = (left.replace(" ", "").ljust(64, ".")[:64]
            + mid.replace(" ", "").ljust(102, ".")[:102]
            + right.replace(" ", "").ljust(83, ".")[:83])
    start = None
    for i, c in enumerate(mask + "."):
        if c == "#" and start is None:
            start = i
        elif c != "#" and start is not None:
            band_x += [BIN_START + start * BIN_H, BIN_START + i * BIN_H, None]
            band_y += [level, level, None]
            start = None

def runs(level, pairs):
    xs, ys = [], []
    for a, b in zip(pairs[::2], pairs[1::2]):
        xs += [a, b, None]
        ys += [level, level, None]
    return xs, ys

fig = go.Figure()
BLACK = "#000000"
fig.add_trace(go.Scatter(x=band_x, y=band_y, mode="lines", line=dict(color=BLACK, width=2.9), hoverinfo="skip"))
for level, pairs in ((level_3173, runs_3173), (level_4233, runs_4233)):
    xs, ys = runs(level, pairs)
    fig.add_trace(go.Scatter(x=xs, y=ys, mode="lines", line=dict(color=BLACK, width=2.4), hoverinfo="skip"))
groups = [isolated, fringe_left, patch_above_left, patch_below_left, top_a, top_b, top_c, top_d, below_d,
          low_a, low_b, low_c, low_d, low_e]
for g in groups:
    fig.add_trace(go.Scatter(x=[p[0] for p in g], y=[p[1] for p in g], mode="markers",
                             marker=dict(symbol="square", size=3, color=BLACK, line=dict(width=0))))

axis_common = dict(showgrid=False, zeroline=False, showline=True, linecolor="rgba(0,0,0,0)", linewidth=1,
                   mirror="ticks", ticks="inside", tickcolor=BLACK, tickwidth=4.5, ticklen=24, automargin=False,
                   ticklabeloverflow="allow", tickfont=dict(family=FONT, size=62, color=BLACK))
fig.update_xaxes(range=[-0.809, 9.158], tickmode="array", tickvals=x_tick_hours, ticktext=x_tick_labels,
                 minor=dict(tickmode="array", tickvals=x_minor_hours, ticks="inside", ticklen=13,
                            tickwidth=4.5, tickcolor=BLACK),
                 ticklabelstandoff=5,
                 title=dict(text="time", font=dict(family=FONT, size=62, color=BLACK), standoff=50),
                 **axis_common)
fig.update_yaxes(range=[2.5, 4.5], tickmode="array", tickvals=y_ticks, ticktext=y_tick_labels,
                 ticklabelstandoff=32,
                 title=dict(text="Bitrate [Mbps]", font=dict(family=FONT, size=62, color=BLACK), standoff=104),
                 **axis_common)
fig.add_shape(type="rect", xref="paper", yref="paper", x0=0, x1=1, y0=0, y1=1, layer="above",
              line=dict(color=BLACK, width=4.8))
fig.add_annotation(x=0.264, y=4.343, xref="x", yref="y", text="VBR flow 1", showarrow=False,
                   xanchor="left", yanchor="middle", font=dict(family=FONT, size=64, color=BLACK))
fig.update_layout(width=1385, height=924, showlegend=False, plot_bgcolor="white", paper_bgcolor="white",
                  margin=dict(l=311, r=15, t=32, b=181))
fig.write_html("out.html", config={"displayModeBar": False},
               post_script="document.body.style.margin='0';document.body.style.overflow='hidden';")
